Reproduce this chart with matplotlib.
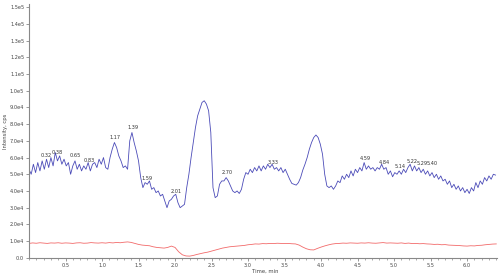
import numpy as np
import matplotlib
matplotlib.use("Agg")
import matplotlib.pyplot as plt
from matplotlib.ticker import FixedLocator, MultipleLocator

# ---- data (intensity in units of 1e4 cps) ----
blue_step = 0.03
blue_vals = [
    5.3, 5.0, 5.6, 5.1, 5.7, 5.2, 5.8, 5.3, 5.9, 5.4,
    6.0, 5.5, 6.3, 5.8, 6.1, 5.6, 5.9, 5.5, 5.7, 5.0,
    5.5, 5.8, 5.3, 5.6, 5.2, 5.5, 5.3, 5.7, 5.2, 5.6,
    5.7, 5.4, 5.9, 5.6, 6.0, 5.4, 5.3, 6.0, 6.5, 6.9,
    6.6, 6.1, 5.8, 5.4, 5.5, 5.3, 7.0, 7.5, 6.9, 6.4,
    5.8, 4.8, 4.2, 4.5, 4.4, 4.6, 4.1, 4.2, 3.9, 4.0,
    3.7, 3.8, 3.4, 3.0, 3.4, 3.5, 3.7, 3.8, 3.3, 3.0,
    3.1, 3.2, 4.2, 5.0, 6.0, 6.9, 7.8, 8.5, 8.9, 9.3,
    9.4, 9.2, 8.8, 7.5, 4.2, 3.6, 3.7, 4.4, 4.6, 4.6,
    4.8, 4.6, 4.3, 4.0, 3.9, 4.0, 3.85, 4.1, 4.7, 5.1,
    5.0, 5.3, 5.1, 5.4, 5.2, 5.5, 5.2, 5.5, 5.3, 5.6,
    5.4, 5.6, 5.3, 5.4, 5.2, 5.4, 5.1, 5.3, 5.0, 4.7,
    4.45, 4.4, 4.35, 4.5, 4.8, 5.25, 5.6, 6.0, 6.5, 6.9,
    7.2, 7.35, 7.2, 6.8, 6.2, 5.0, 4.3, 4.2, 4.3, 4.1,
    4.3, 4.6, 4.5, 4.9, 4.7, 5.0, 4.8, 5.2, 4.9, 5.3,
    5.1, 5.4, 5.2, 5.7, 5.3, 5.5, 5.3, 5.4, 5.2, 5.4,
    5.3, 5.6, 5.3, 5.4, 5.0, 5.2, 4.85, 5.1, 5.0, 5.2,
    5.0, 5.3, 5.1, 5.4, 5.6, 5.2, 5.5, 5.2, 5.4, 5.1,
    5.3, 5.0, 5.2, 4.9, 5.1, 4.8, 5.0, 4.7, 4.9, 4.6,
    4.7, 4.4, 4.6, 4.2, 4.4, 4.1, 4.3, 4.0, 4.2, 3.9,
    4.1, 3.85, 4.2, 4.0, 4.5, 4.2, 4.6, 4.4, 4.8, 4.6,
    4.9, 4.7, 5.0, 4.95,
]

red_step = 0.05
red_vals = [
    0.86, 0.89, 0.87, 0.90, 0.88, 0.86, 0.89, 0.88, 0.90, 0.87,
    0.89, 0.88, 0.86, 0.89, 0.90, 0.87, 0.88, 0.91, 0.89, 0.88,
    0.90, 0.88, 0.91, 0.89, 0.92, 0.90, 0.93, 0.95, 0.92, 0.86,
    0.80, 0.76, 0.74, 0.72, 0.66, 0.62, 0.60, 0.58, 0.62, 0.70,
    0.62, 0.36, 0.18, 0.11, 0.10, 0.14, 0.20, 0.25, 0.30, 0.34,
    0.40, 0.46, 0.52, 0.58, 0.62, 0.66, 0.68, 0.70, 0.72, 0.74,
    0.78, 0.80, 0.83, 0.82, 0.85, 0.84, 0.86, 0.85, 0.87, 0.86,
    0.85, 0.86, 0.84, 0.83, 0.76, 0.64, 0.54, 0.48, 0.47, 0.56,
    0.64, 0.71, 0.77, 0.82, 0.85, 0.86, 0.88, 0.87, 0.89, 0.88,
    0.87, 0.89, 0.88, 0.90, 0.88, 0.87, 0.89, 0.91, 0.88, 0.89,
    0.88, 0.87, 0.89, 0.86, 0.88, 0.85, 0.86, 0.84, 0.85, 0.83,
    0.82, 0.80, 0.81, 0.78, 0.79, 0.76, 0.75, 0.74, 0.73, 0.71,
    0.70, 0.72, 0.71, 0.74, 0.75, 0.78, 0.80, 0.82, 0.83,
]

peak_labels = ["0.32", "0.38", "0.65", "0.83", "1.17", "1.39", "1.59", "2.01",
               "2.70", "3.33", "4.59", "4.84", "5.14", "5.22", "5.29", "5.40"]
peak_label_t = [0.24, 0.39, 0.63, 0.82, 1.18, 1.42, 1.62, 2.02,
                2.71, 3.34, 4.61, 4.86, 5.08, 5.25, 5.38, 5.52]
peak_label_v = [6.15, 6.29, 6.15, 5.85, 7.23, 7.77, 4.77, 3.99,
                5.13, 5.73, 5.97, 5.73, 5.49, 5.79, 5.67, 5.67]

y_ticks = [0, 1, 2, 3, 4, 5, 6, 7, 8, 9, 10, 11, 12, 13, 14, 15]
y_tick_labels = ["0.0", "1.0e4", "2.0e4", "3.0e4", "4.0e4", "5.0e4", "6.0e4",
                 "7.0e4", "8.0e4", "9.0e4", "1.0e5", "1.1e5", "1.2e5", "1.3e5",
                 "1.4e5", "1.5e5"]
x_ticks = [0.5, 1.0, 1.5, 2.0, 2.5, 3.0, 3.5, 4.0, 4.5, 5.0, 5.5, 6.0]

# ---- figure ----
fig = plt.figure(figsize=(5.0, 2.76), dpi=100)
ax = fig.add_axes([0.058, 0.066, 0.936, 0.920])

bt = np.arange(len(blue_vals)) * blue_step
rt = np.arange(len(red_vals)) * red_step
ax.plot(bt, blue_vals, color="#4b4bb8", lw=0.6)
ax.plot(rt, red_vals, color="#f26a6a", lw=0.6)

for lab, t, v in zip(peak_labels, peak_label_t, peak_label_v):
    ax.text(t, v, lab, fontsize=3.6, color="#333333", ha="center", va="center")

ax.set_xlim(0, 6.41)
ax.set_ylim(0, 15.2)
ax.yaxis.set_major_locator(FixedLocator(y_ticks))
ax.set_yticklabels(y_tick_labels)
ax.xaxis.set_major_locator(FixedLocator(x_ticks))
ax.set_xticklabels([f"{v:.1f}" for v in x_ticks])
ax.xaxis.set_minor_locator(MultipleLocator(0.1))

for s in ["top", "right"]:
    ax.spines[s].set_visible(False)
for s in ["left", "bottom"]:
    ax.spines[s].set_color("#888888")
    ax.spines[s].set_linewidth(0.8)

ax.tick_params(axis="both", which="major", labelsize=3.6, colors="#888888",
               labelcolor="#444444", length=2, width=0.6, pad=1.5)
ax.tick_params(axis="x", which="minor", length=1.2, width=0.5, colors="#888888")

fig.text(0.505, 0.018, "Time, min", fontsize=3.8, color="#444444",
         ha="left", va="center")
fig.text(0.012, 0.525, "Intensity, cps", fontsize=3.8, color="#444444",
         rotation=90, ha="center", va="center")

fig.savefig("out.png", dpi=100)
